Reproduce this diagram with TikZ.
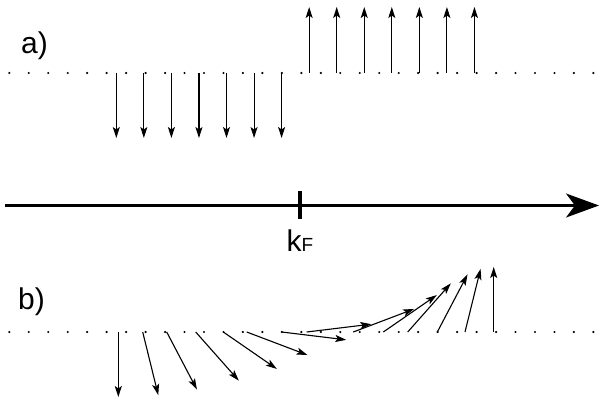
\documentclass[tikz,border=0pt]{standalone}
\usepackage{fontspec}
\setmainfont{Liberation Sans}
\usetikzlibrary{arrows.meta,calc}
\begin{document}
\begin{tikzpicture}[x=1pt,y=-1pt,
  spin/.style={line width=1.1pt,-{Stealth[length=11pt,width=7pt,inset=2.5pt]}},
  axis/.style={line width=2.2pt,-{Stealth[length=33pt,width=24pt,inset=9pt]}},
  lbl/.style={font=\fontsize{30}{30}\selectfont,anchor=base west,inner sep=0pt}]
\useasboundingbox (0,0) rectangle (601,401);
% dotted baselines
\foreach \k in {0,...,30}{
  \fill ({9.3+19.47*\k},73) circle (1.2pt);
  \fill ({9.3+19.47*\k},332) circle (1.2pt);
}
% labels
\node[lbl] (la) at (21,54) {a)};
\node[lbl] (lb) at (18,309) {b)};
% panel a
\foreach \k in {0,...,6}{
  \coordinate (as\k) at ({116.3+27.55*\k},73);
  \coordinate (ae\k) at ({116.3+27.55*\k},138);
  \draw[spin] (as\k) -- (ae\k);
}
\foreach \k in {7,...,13}{
  \coordinate (as\k) at ({116.3+27.55*\k},73);
  \coordinate (ae\k) at ({116.3+27.55*\k},7);
  \draw[spin] (as\k) -- (ae\k);
}
% axis
\coordinate (ax0) at (5,205.5);
\coordinate (ax1) at (599,205.5);
\draw[axis] (ax0) -- (ax1);
\coordinate (t0) at (299.8,191);
\coordinate (t1) at (299.8,219);
\draw[line width=3.6pt] (t0) -- (t1);
\node[anchor=base,inner sep=0pt] (kf) at (300,251.5)
  {\fontsize{30}{30}\selectfont k\fontsize{19}{19}\selectfont F};
% panel b
\foreach \x [count=\i from 0] in {118.3,142.7,166.7,195.7,223.3,246.7,281.7,306.7,353.3,383.3,407.7,437.3,465,493.7}{
  \pgfmathsetmacro{\ang}{-90+180/13*\i}
  \coordinate (bs\i) at (\x,332);
  \coordinate (be\i) at ($(bs\i)+({65*cos(\ang)},{-65*sin(\ang)})$);
  \draw[spin] (bs\i) -- (be\i);
}
\end{tikzpicture}
\end{document}
